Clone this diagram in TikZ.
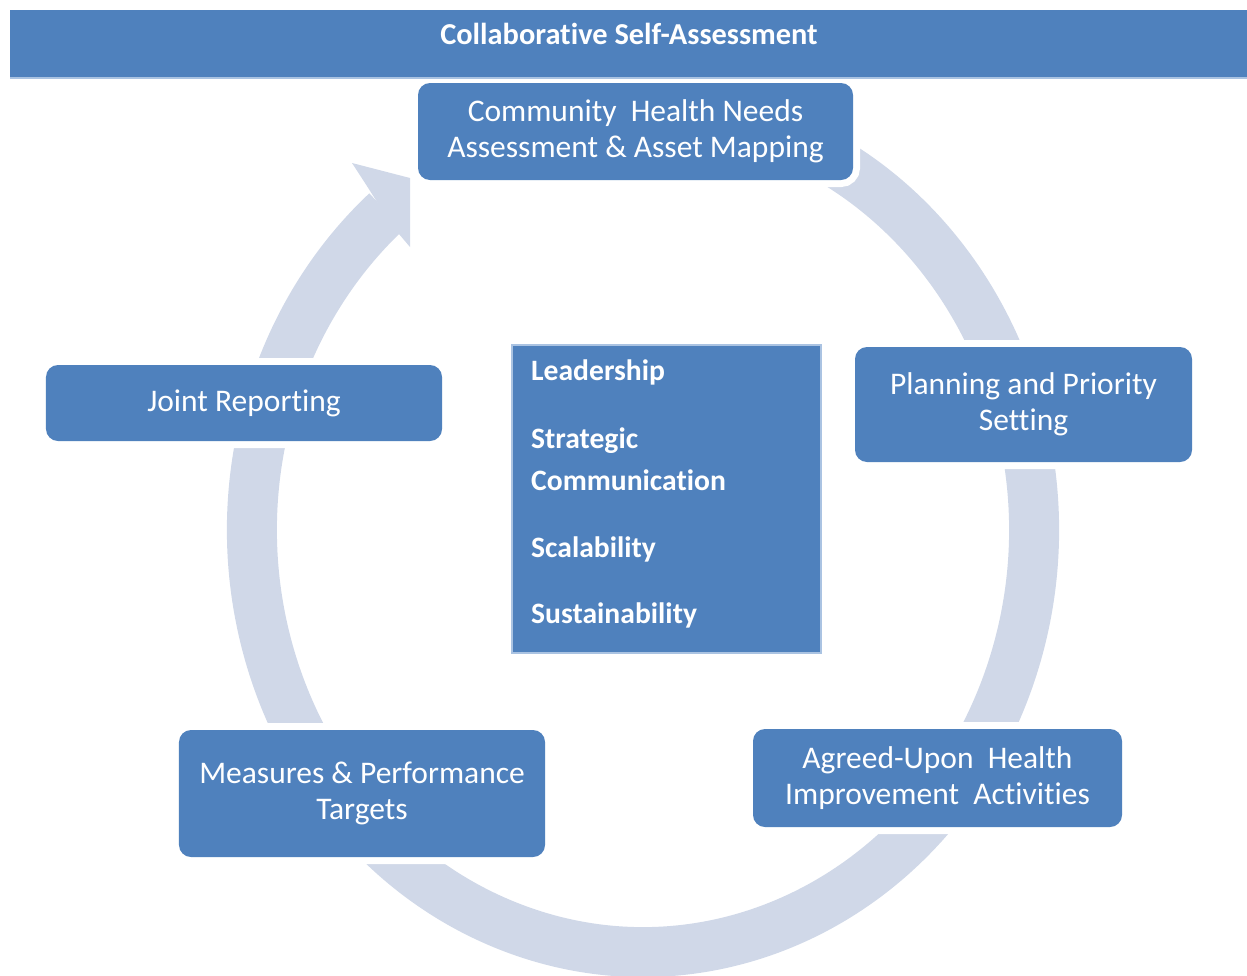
\documentclass[tikz,border=0pt]{standalone}
\usepackage{fontspec}
\setmainfont{Carlito}[Ligatures=NoCommon]
\definecolor{boxblue}{RGB}{79,129,189}
\definecolor{ringblue}{RGB}{208,216,232}
\definecolor{edgeblue}{RGB}{170,195,226}
\begin{document}
\begin{tikzpicture}[x=1bp,y=-1bp,
  stage/.style={fill=boxblue, rounded corners=12bp,
    preaction={draw=white, line width=14bp},
    text=white, align=center, inner sep=0pt,
    font=\fontsize{31.5bp}{36bp}\selectfont},
  ring/.style={draw=ringblue, line width=50bp},
  pillar/.style={text=white, anchor=base west, inner sep=0pt,
    font=\fontsize{29.6bp}{35bp}\selectfont\bfseries}]
\useasboundingbox (0,0) rectangle (1247,976);
% cycle ring
\coordinate (ringc) at (643,530);
\draw[ring] (ringc) ++(-70:391 and 422) arc[start angle=-70, end angle=229, x radius=391, y radius=422];
\fill[ringblue] (352,163) -- (410,178) -- (410,247) -- (393,227) -- (365,183) -- cycle;
% stage boxes
\node[stage, minimum width=435bp, minimum height=97bp] (needs) at (635.5,131.5)
  {Community\ \ Health Needs\\Assessment \& Asset Mapping};
\node[stage, minimum width=337bp, minimum height=115bp] (plan) at (1023.5,404.5)
  {Planning and Priority\\Setting};
\node[stage, minimum width=369bp, minimum height=98bp] (agreed) at (937.5,778)
  {Agreed-Upon\ \ Health\\Improvement\ \ Activities};
\node[stage, minimum width=366bp, minimum height=127bp] (measures) at (362,793.5)
  {Measures \& Performance\\Targets};
\node[stage, minimum width=396bp, minimum height=76bp] (joint) at (244,403)
  {Joint Reporting};
% centre box
\node[fill=boxblue, draw=edgeblue, line width=1.5bp, minimum width=309bp, minimum height=308bp, inner sep=0pt] (core) at (666.5,499) {};
\node[pillar] (lead) at (531,380) {Leadership};
\node[pillar] (strat) at (531,448) {Strategic};
\node[pillar] (comm) at (531,490) {Communication};
\node[pillar] (scal) at (531,557) {Scalability};
\node[pillar] (sust) at (531,623) {Sustainability};
% title bar
\fill[boxblue] (10,10) rectangle (1247,78);
\draw[edgeblue, line width=1.5bp] (10,78) -- (1247,78);
\node[text=white, inner sep=0pt, font=\fontsize{30.4bp}{34bp}\selectfont\bfseries] (title) at (629,34) {Collaborative Self-Assessment};
\end{tikzpicture}
\end{document}
